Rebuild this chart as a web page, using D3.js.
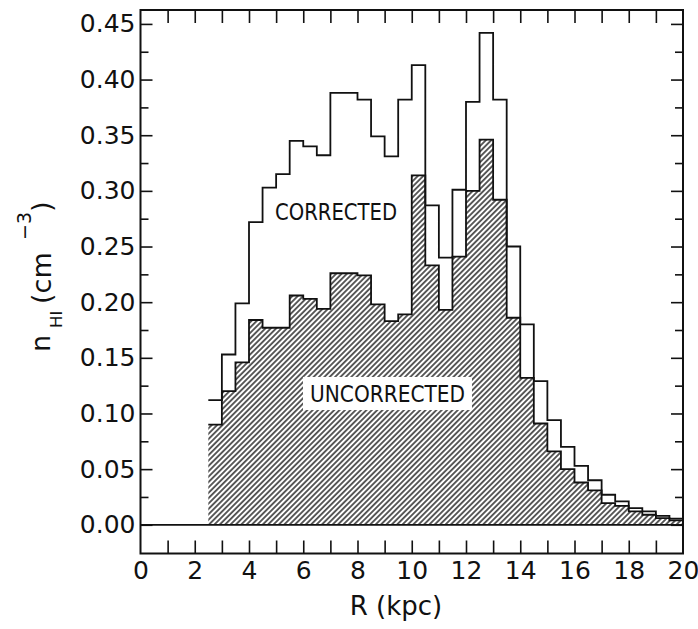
<!DOCTYPE html>
<html><head><meta charset="utf-8">
<script src="https://cdn.jsdelivr.net/npm/d3@7"></script>
<style>html,body{margin:0;padding:0;background:#fff}</style>
</head><body>
<svg id="chart" width="698" height="629"></svg>
<script>
// ---- data ----
const binStarts = [2.5,3.0,3.5,4.0,4.5,5.0,5.5,6.0,6.5,7.0,7.5,8.0,8.5,9.0,9.5,10.0,10.5,11.0,11.5,12.0,12.5,13.0,13.5,14.0,14.5,15.0,15.5,16.0,16.5,17.0,17.5,18.0,18.5,19.0,19.5];
const binEnd = 20;
const corrected = [0.112,0.153,0.199,0.272,0.303,0.315,0.345,0.340,0.332,0.388,0.388,0.382,0.349,0.331,0.382,0.413,0.287,0.240,0.301,0.380,0.442,0.382,0.250,0.180,0.129,0.094,0.070,0.053,0.040,0.027,0.021,0.015,0.012,0.008,0.0055];
const uncorrected = [0.090,0.120,0.146,0.184,0.177,0.177,0.206,0.203,0.194,0.226,0.226,0.224,0.198,0.183,0.189,0.314,0.233,0.193,0.241,0.300,0.346,0.292,0.186,0.132,0.091,0.066,0.050,0.038,0.031,0.0195,0.017,0.012,0.009,0.006,0.004];
const yMajorTicks = [0,0.05,0.10,0.15,0.20,0.25,0.30,0.35,0.40,0.45];
const yMajorLabels = ["0.00","0.05","0.10","0.15","0.20","0.25","0.30","0.35","0.40","0.45"];
const yMinorTicks = [0.025,0.075,0.125,0.175,0.225,0.275,0.325,0.375,0.425];
const xTicks = [1,2,3,4,5,6,7,8,9,10,11,12,13,14,15,16,17,18,19];
const xLabelValues = [0,2,4,6,8,10,12,14,16,18,20];
const xLabels = ["0","2","4","6","8","10","12","14","16","18","20"];
const annotationTexts = ["CORRECTED","UNCORRECTED"];
const annotationR = [4.96, 6.25];
const annotationV = [0.274, 0.1106];

// ---- scales ----
const svg = d3.select("#chart");
const x = d3.scaleLinear().domain([0,20]).range([140.5,683]);
const y = d3.scaleLinear().domain([-0.0258,0.4625]).range([553.5,10]);
const yBottom = y.domain()[0], yTop = y.domain()[1];
const tickFont = "DejaVu Sans, sans-serif";

// hatch pattern
const defs = svg.append("defs");
const pat = defs.append("pattern").attr("id","hatch").attr("patternUnits","userSpaceOnUse")
  .attr("width",3.8).attr("height",3.8).attr("patternTransform","rotate(45)");
pat.append("rect").attr("width",3.8).attr("height",3.8).attr("fill","#fff");
pat.append("line").attr("x1",1.9).attr("y1",0).attr("x2",1.9).attr("y2",3.8)
  .attr("stroke","#2a2a2a").attr("stroke-width",1.5);

const pts = vals => binStarts.map((r,i)=>[r, vals[i]]).concat([[binEnd, vals[vals.length-1]]]);

// hatched area (uncorrected)
svg.append("path").datum(pts(uncorrected))
  .attr("d", d3.area().x(d=>x(d[0])).y0(y(0)).y1(d=>y(d[1])).curve(d3.curveStepAfter))
  .attr("fill","url(#hatch)");

// white box behind UNCORRECTED
svg.append("rect")
  .attr("x", x(5.99)).attr("y", y(0.1328))
  .attr("width", x(12.22)-x(5.99)).attr("height", y(0.1031)-y(0.1328))
  .attr("fill","#fff");

// zero line
svg.append("line").attr("x1",x(0)).attr("x2",x(20)).attr("y1",y(0)).attr("y2",y(0))
  .attr("stroke","#111").attr("stroke-width",1.8);

// step lines
const stepLine = d3.line().x(d=>x(d[0])).y(d=>y(d[1])).curve(d3.curveStepAfter);
[uncorrected, corrected].forEach(v=>{
  svg.append("path").datum(pts(v)).attr("d",stepLine)
    .attr("fill","none").attr("stroke","#111").attr("stroke-width",1.8)
    .attr("stroke-linejoin","miter");
});

// annotations
const annLen = [122,155];
annotationTexts.forEach((t,i)=>{
  svg.append("text").attr("x",x(annotationR[i])).attr("y",y(annotationV[i]))
    .attr("font-family","Liberation Sans Narrow, DejaVu Sans Condensed, sans-serif")
    .attr("font-size",23.5).attr("fill","#111")
    .attr("textLength",annLen[i]).attr("lengthAdjust","spacingAndGlyphs")
    .text(t);
});

// frame
svg.append("rect").attr("x",x(0)).attr("y",y(yTop))
  .attr("width",x(20)-x(0)).attr("height",y(yBottom)-y(yTop))
  .attr("fill","none").attr("stroke","#111").attr("stroke-width",2);

function styleAxis(g){
  g.select(".domain").remove();
  g.selectAll(".tick line").attr("stroke","#111").attr("stroke-width",1.6);
  g.attr("font-family",tickFont).attr("font-size",25);
  g.selectAll("text").attr("fill","#111");
}
// left
svg.append("g").attr("transform",`translate(${x(0)},0)`)
  .call(d3.axisLeft(y).tickValues(yMajorTicks).tickSize(-12).tickPadding(5).tickFormat((d,i)=>yMajorLabels[i]))
  .call(styleAxis);
svg.append("g").attr("transform",`translate(${x(0)},0)`)
  .call(d3.axisLeft(y).tickValues(yMinorTicks).tickSize(-8).tickFormat(""))
  .call(styleAxis);
// right
svg.append("g").attr("transform",`translate(${x(20)},0)`)
  .call(d3.axisRight(y).tickValues(yMajorTicks).tickSize(-12).tickFormat(""))
  .call(styleAxis);
svg.append("g").attr("transform",`translate(${x(20)},0)`)
  .call(d3.axisRight(y).tickValues(yMinorTicks).tickSize(-8).tickFormat(""))
  .call(styleAxis);
// top
svg.append("g").attr("transform",`translate(0,${y(yTop)})`)
  .call(d3.axisTop(x).tickValues(xTicks).tickSize(-13).tickFormat(""))
  .call(styleAxis);
// bottom
svg.append("g").attr("transform",`translate(0,${y(yBottom)})`)
  .call(d3.axisBottom(x).tickValues(xTicks).tickSize(-13).tickFormat(""))
  .call(styleAxis);
svg.append("g").attr("transform",`translate(0,${y(yBottom)})`)
  .call(d3.axisBottom(x).tickValues(xLabelValues).tickSize(0).tickPadding(8).tickFormat((d,i)=>xLabels[i]))
  .call(styleAxis);

// x title
svg.append("text").attr("x",396).attr("y",615).attr("text-anchor","middle")
  .attr("font-family",tickFont).attr("font-size",26).attr("fill","#111").text("R (kpc)");

// y title (rotated pieces)
const yt = svg.append("g").attr("transform","rotate(-90)")
  .attr("font-family",tickFont).attr("fill","#111");
const piece = (txt, startY, baseX, fs) =>
  yt.append("text").attr("x",-startY).attr("y",baseX).attr("font-size",fs).text(txt);
piece("n",352,50,27);
piece("HI",328,62,16.5);
piece("(cm",304,51,27);
piece("\u22123",240,31,19);
piece(")",212,51,27);
</script>
</body></html>
